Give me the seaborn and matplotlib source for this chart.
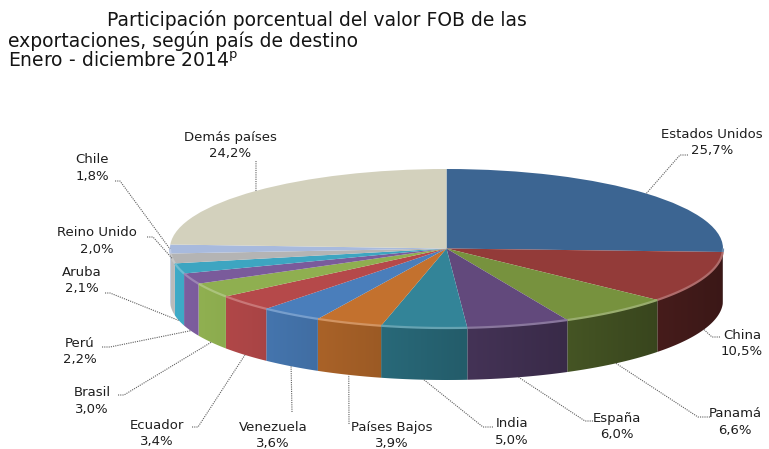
import numpy as np
import matplotlib
matplotlib.use("Agg")
import matplotlib.pyplot as plt
import seaborn as sns
from matplotlib.colors import to_rgb
from matplotlib.patches import Polygon

# Export shares by destination country (percent of FOB value), clockwise from 12 o'clock
paises = ["Estados Unidos", "China", "Panamá", "España", "India", "Países Bajos",
          "Venezuela", "Ecuador", "Brasil", "Perú", "Aruba", "Reino Unido",
          "Chile", "Demás países"]
participacion = [25.7, 10.5, 6.6, 6.0, 5.0, 3.9, 3.6, 3.4, 3.0, 2.2, 2.1, 2.0, 1.8, 24.2]
colores = ["#3C6592", "#933B39", "#77923E", "#62497C", "#338498", "#C3712E",
           "#4A7EBB", "#B5494A", "#8FAF50", "#7A5B9B", "#3DA5C1", "#B4B4B4",
           "#A8BADD", "#D3D1BD"]

sns.set_style("white")
plt.rcParams["font.family"] = ["DejaVu Sans"]

# Canvas geometry in pixels (origin top-left)
W, H = 769, 449
CX, CY = 446.5, 248.5      # ellipse centre
RX, RY = 276.5, 79.5       # ellipse radii
DEPTH = 52                 # thickness of the disc
K = RY / RX                # vertical squash of the pie


def to_data(x, y):
    """Pixel position (from top-left) to data coordinates of the squashed axes."""
    return x, (H - y) / K


fig = plt.figure(figsize=(W / 100, H / 100), dpi=100)
ax = fig.add_axes([0, 0, 1, 1])

# Top face of the disc
cx_d, cy_d = to_data(CX, CY)
ax.pie(participacion, colors=colores, startangle=90, counterclock=False,
       radius=RX, center=(cx_d, cy_d), frame=True,
       wedgeprops=dict(linewidth=0, edgecolor="none", zorder=3))
ax.set_aspect("auto")
ax.set_xlim(0, W)
ax.set_ylim(0, H / K)
ax.axis("off")

# Side wall of the visible front half: each slice gets a horizontal
# light-to-dark gradient (light from the left), clipped to its outline
cum = np.concatenate([[0.0], np.cumsum(participacion)]) / 100.0
for i, col in enumerate(colores):
    lo, hi = max(cum[i], 0.25), min(cum[i + 1], 0.75)
    if lo >= hi:
        continue
    rgb = np.array(to_rgb(col))
    n = max(3, int((hi - lo) * 720) + 1)
    th = np.radians(90 - 360 * np.linspace(lo, hi, n))
    xs = CX + RX * np.cos(th)
    ys = CY - RY * np.sin(th)
    outline = [to_data(a, b) for a, b in zip(xs, ys)] + \
              [to_data(a, b + DEPTH) for a, b in zip(xs[::-1], ys[::-1])]
    poly = Polygon(outline, closed=True, facecolor="none", edgecolor="none",
                   transform=ax.transData)
    ax.add_patch(poly)
    x0, x1 = min(xs) - 1, max(xs) + 1
    gx = np.linspace(x0, x1, 200)
    f = 0.72 - 0.32 * (gx - CX) / RX
    img = np.clip(rgb[None, None, :] * f[None, :, None], 0, 1)
    y0 = to_data(0, max(ys) + DEPTH + 1)[1]
    y1 = to_data(0, min(ys) - 1)[1]
    im = ax.imshow(img, extent=(x0, x1, y0, y1), aspect="auto",
                   interpolation="bilinear", zorder=1)
    im.set_clip_path(poly)
    # light rim along the front edge of the top face
    light = np.clip(rgb + (1 - rgb) * 0.25, 0, 1)
    rx_, ry_ = zip(*[to_data(a, b) for a, b in zip(xs, ys)])
    ax.plot(rx_, ry_, color=light, linewidth=1.6, zorder=4, solid_capstyle="butt")

ax.set_xlim(0, W)
ax.set_ylim(0, H / K)

# Label block centres and leader start/elbow points (pixels)
label_pos = {
    "Estados Unidos": (712, 142.5), "China": (742, 343.5), "Panamá": (735, 422),
    "España": (617, 426.5), "India": (512, 432), "Países Bajos": (392, 435.5),
    "Venezuela": (273, 435.5), "Ecuador": (157, 433.5), "Brasil": (92, 401),
    "Perú": (80, 351.5), "Aruba": (82, 280.5), "Reino Unido": (97, 241),
    "Chile": (92, 168), "Demás países": (230, 145.5),
}
leader_pts = {
    "Estados Unidos": [(688, 155), (680, 155)], "China": [(720, 337), (712, 337)],
    "Panamá": [(710, 417), (698, 417)], "España": [(593, 421), (585, 421)],
    "India": [(493, 427), (483, 427)], "Países Bajos": [(349, 424)],
    "Venezuela": [(292, 412)], "Ecuador": [(192, 427), (198, 427)],
    "Brasil": [(118, 395), (124, 395)], "Perú": [(102, 347), (110, 347)],
    "Aruba": [(105, 293), (110, 293)], "Reino Unido": [(147, 237), (153, 237)],
    "Chile": [(115, 181), (120, 181)], "Demás países": [(256, 161)],
}

for i, (pais, val) in enumerate(zip(paises, participacion)):
    mid = 0.5 * (cum[i] + cum[i + 1])
    th = np.radians(90 - 360 * mid)
    ax_x = CX + RX * np.cos(th)
    ax_y = CY - RY * np.sin(th)
    if np.sin(th) < -0.15:
        ax_y += DEPTH
    pts = leader_pts[pais] + [(ax_x, ax_y)]
    lx, ly = zip(*[to_data(a, b) for a, b in pts])
    ax.plot(lx, ly, color="#5e5e5e", linewidth=0.8, linestyle=(0, (1, 1)), zorder=5)

    tx, ty = to_data(*label_pos[pais])
    texto = f"{pais}\n{val:.1f}%".replace(".", ",")
    ax.text(tx, ty, texto, ha="center", va="center", fontsize=9.5,
            color="#1e1e1e", linespacing=1.35, zorder=6)

# Title
tc = "#141414"
fig.text(107 / W, 1 - 20 / H, "Participación porcentual del valor FOB de las",
         ha="left", va="center", fontsize=13.5, color=tc)
fig.text(8 / W, 1 - 41 / H, "exportaciones, según país de destino",
         ha="left", va="center", fontsize=13.5, color=tc)
fig.text(8 / W, 1 - 61 / H, "Enero - diciembre 2014$^{\\mathrm{p}}$",
         ha="left", va="center", fontsize=13.5, color=tc)

fig.savefig("out.png", dpi=100, facecolor="white")
